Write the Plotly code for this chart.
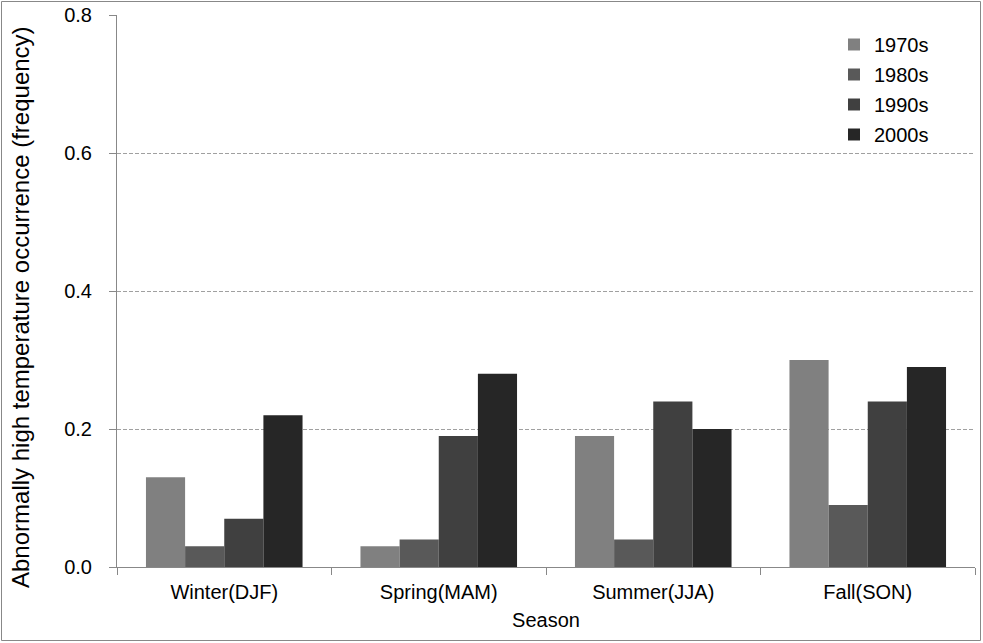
import plotly.graph_objects as go

seasons = ["Winter(DJF)", "Spring(MAM)", "Summer(JJA)", "Fall(SON)"]
decades = ["1970s", "1980s", "1990s", "2000s"]
v1970 = [0.13, 0.03, 0.19, 0.30]
v1980 = [0.03, 0.04, 0.04, 0.09]
v1990 = [0.07, 0.19, 0.24, 0.24]
v2000 = [0.22, 0.28, 0.20, 0.29]
colors = ["#808080", "#595959", "#404040", "#262626"]
y_ticks = [0.0, 0.2, 0.4, 0.6, 0.8]
y_title = "Abnormally high temperature occurrence (frequency)"

W, H = 983, 643
ml, mr, mt, mb = 117, 8, 15, 76
pw, ph = W - ml - mr, H - mt - mb

fig = go.Figure()
for name, vals, c in zip(decades, [v1970, v1980, v1990, v2000], colors):
    fig.add_trace(go.Bar(x=seasons, y=vals, name=name, marker=dict(color=c, line=dict(width=0)),
                         legendgroup=name))

def px_x(p):
    return (p - ml) / pw

def px_y(p):
    return (H - mb - p) / ph

fig.update_layout(
    width=W, height=H,
    margin=dict(l=ml, r=mr, t=mt, b=mb, autoexpand=False),
    paper_bgcolor="white", plot_bgcolor="white",
    font=dict(family="Liberation Sans, Arial, sans-serif", size=20, color="black"),
    barmode="group", bargap=0.27, bargroupgap=0,
    showlegend=True,
    legend=dict(x=px_x(834), y=px_y(25), xanchor="left", yanchor="top",
                font=dict(size=20), bgcolor="rgba(0,0,0,0)",
                tracegroupgap=1, itemwidth=30),
    xaxis=dict(showline=True, linecolor="#888888", linewidth=1, ticks="outside",
               tickson="boundaries", ticklen=7, tickcolor="#888888", showgrid=False,
               ticklabelstandoff=7, tickfont=dict(size=20), automargin=False,
               title=dict(text="Season", standoff=10, font=dict(size=20))),
    yaxis=dict(range=[0, 0.8], tickvals=y_ticks, tickformat=".1f",
               showline=True, linecolor="#888888", linewidth=1, ticks="outside",
               ticklen=7, tickcolor="#888888", tickfont=dict(size=20),
               showgrid=True, gridcolor="#a0a0a0", griddash="4px,2px", gridwidth=1,
               zeroline=False, ticklabelstandoff=13, ticklabeloverflow="allow",
               automargin=False),
    annotations=[dict(text=y_title, textangle=-90, xref="paper", yref="paper",
                      x=px_x(20), y=px_y(307), xanchor="center", yanchor="middle",
                      showarrow=False, font=dict(size=24))],
    shapes=[dict(type="rect", xref="paper", yref="paper",
                 x0=px_x(1.5), x1=px_x(980.5), y0=px_y(640.5), y1=px_y(1.5),
                 line=dict(color="#888888", width=1), layer="below")],
)

fig.write_html("out.html", config={"displayModeBar": False},
               post_script="document.body.style.margin='0';document.body.style.overflow='hidden';")
